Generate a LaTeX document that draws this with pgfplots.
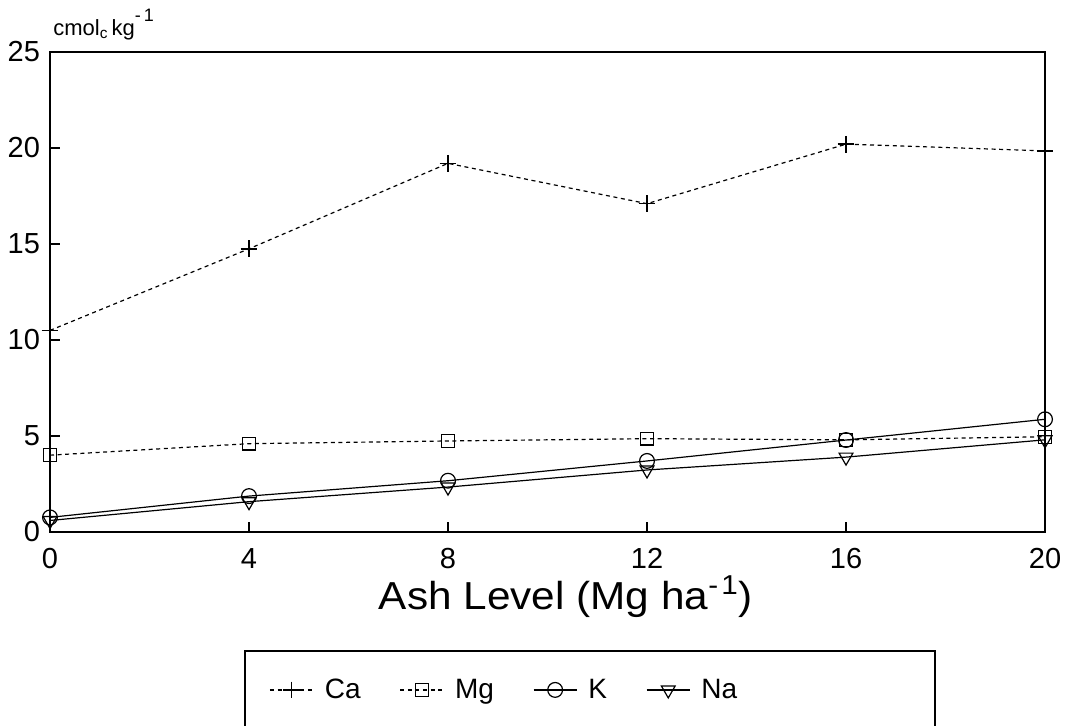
\documentclass[border=0pt]{standalone}
\usepackage{fontspec}
\setmainfont{Liberation Sans}
\usepackage{graphicx}
\usepackage{pgfplots}
\pgfplotsset{compat=1.18}
\pgfplotstableread{
x Ca Mg K Na
0 10.5 4.0 0.76 0.6
4 14.75 4.6 1.87 1.58
8 19.2 4.74 2.67 2.34
12 17.1 4.86 3.7 3.23
16 20.2 4.8 4.79 3.9
20 19.85 4.96 5.87 4.8
}\datatab
\begin{document}
\begin{tikzpicture}[x=1pt,y=1pt]
\path[use as bounding box] (0,0) rectangle (534,363);
\begin{axis}[
 at={(25pt,97pt)}, anchor=south west, scale only axis,
 width=497.5pt, height=240pt,
 xmin=0,xmax=20,ymin=0,ymax=25,
 clip=false,
 xtick={0,4,...,20}, ytick={0,5,...,25},
 tick pos=left, tick align=inside, major tick length=5pt,
 tick style={black, line width=0.7pt},
 axis line style={line width=0.7pt},
 ticklabel style={font=\fontsize{14.5}{16}\selectfont},
 xticklabel style={yshift=-4.5pt},
 yticklabel style={xshift=-1.5pt},
 /pgf/number format/assume math mode=true,
 xlabel={\scalebox{1.085}[1]{Ash Level (Mg ha\textsuperscript{-\kern1.5pt1})}},
 xlabel style={font=\fontsize{19.5}{22}\selectfont, at={(axis description cs:0.5186,0)}, anchor=base, yshift=-39pt},
 legend columns=4,
 legend style={at={(axis description cs:0.214,-0.329)}, anchor=west, draw=none, fill=none,
   font=\fontsize{14}{16}\selectfont,
   /tikz/every odd column/.append style={column sep=3.5pt},
   /tikz/every even column/.append style={column sep=17.5pt}},
 legend image code/.code={\draw[mark repeat=2,mark phase=2] plot coordinates {(0cm,0cm)(0.38cm,0cm)(0.76cm,0cm)};},
 every axis plot/.append style={black, line width=0.6pt},
]
\addplot[dash pattern=on 2pt off 1.8pt, mark=+, mark size=4.2pt, mark options={solid, line width=0.8pt}] table[x=x,y=Ca] {\datatab};
\addlegendentry{Ca}
\addplot[dash pattern=on 2pt off 1.8pt, mark=square, mark size=3.2pt, mark options={solid}] table[x=x,y=Mg] {\datatab};
\addlegendentry{Mg}
\addplot[mark=o, mark size=3.7pt, mark options={solid}] table[x=x,y=K] {\datatab};
\addlegendentry{K}
\addplot[mark=triangle, mark size=4pt, mark options={solid, rotate=180}] table[x=x,y=Na] {\datatab};
\addlegendentry{Na}
\node[anchor=base west, font=\fontsize{11}{13}\selectfont, inner sep=0pt] at (axis description cs:0.003,1.035) {cmol\textsubscript{c}\kern1.5pt kg\raisebox{7pt}{\fontsize{9}{9}\selectfont -\kern1.5pt1}};
\end{axis}
\draw[line width=0.7pt] (122.5,-5) -- (122.5,37.5) -- (467.5,37.5) -- (467.5,-5);
\end{tikzpicture}
\end{document}
